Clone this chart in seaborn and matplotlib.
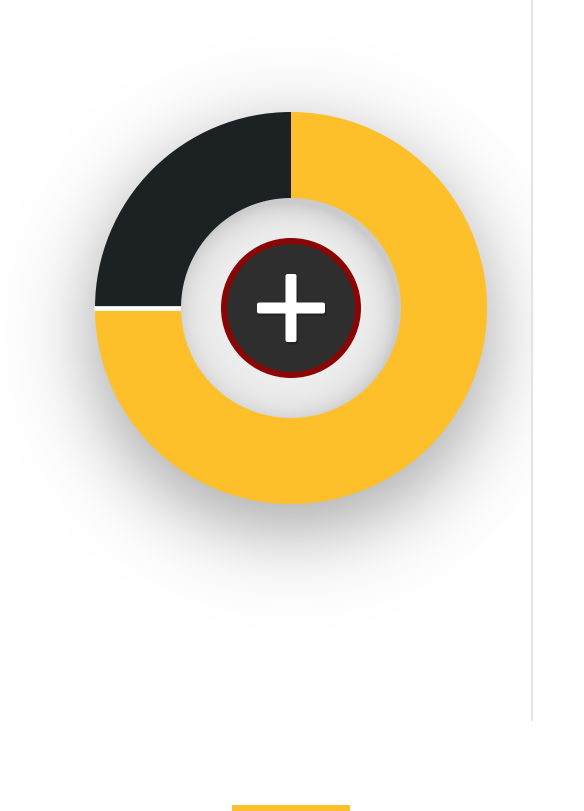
"""Donut widget: 25 / 75 split with a centre add button."""
import numpy as np
import matplotlib
matplotlib.use('Agg')
import matplotlib.pyplot as plt
from matplotlib.patches import Circle, Rectangle, FancyBboxPatch
import seaborn as sns

sns.set_theme(style='white')
plt.rcParams['font.family'] = ['DejaVu Sans']

# data
segment_names = ['Dark', 'Yellow']
segment_shares = [25, 75]
segment_colors = ['#1c2124', '#fec02a']

W, H = 584, 811
cx, cy = 291, 308
r_out, r_in = 196, 110

fig = plt.figure(figsize=(W / 100, H / 100), dpi=100)
ax = fig.add_axes([0, 0, 1, 1])

yy, xx = np.mgrid[0:H, 0:W] + 0.5

# soft drop shadow under the donut
rs = np.hypot(xx - cx, yy - (cy + 24))
shadow_a = 0.32 / (1 + np.exp((rs - 200) / 23))
shadow_a[xx > 533] *= 0.12
shadow = np.zeros((H, W, 4))
shadow[..., 3] = shadow_a
ax.imshow(shadow, extent=(0, W, H, 0), origin='upper', zorder=1, interpolation='bilinear')

# donut (y axis is inverted, so go clockwise in data terms)
wedges, _ = ax.pie(segment_shares, colors=segment_colors, startangle=-90, counterclock=False,
                   radius=r_out, center=(cx, cy),
                   wedgeprops=dict(width=r_out - r_in + 2, linewidth=0))
for w in wedges:
    w.set_zorder(2)

# white gap at 9 o'clock
ax.plot([cx - r_out - 1, cx - r_in + 2], [cy, cy], color='white', linewidth=3.4,
        solid_capstyle='butt', zorder=3)

# inner well with inset shading
r = np.hypot(xx - cx, yy - cy)
d_edge = r_in - np.hypot(xx - (cx - 4), yy - (cy + 5))
dark = np.exp(-np.clip(d_edge, 0, None) / 15)
val = np.clip(0.94 - 0.14 * dark, 0, 1)
well = np.zeros((H, W, 4))
well[..., 0] = val
well[..., 1] = val
well[..., 2] = val
well[..., 3] = np.clip(r_in + 0.5 - r, 0, 1)
ax.imshow(well, extent=(0, W, H, 0), origin='upper', zorder=4, interpolation='bilinear')

# button
ax.add_patch(Circle((cx, cy), 67, facecolor='#2e2e2e', edgecolor='#8b0505',
                    linewidth=4.3, zorder=5))

# plus sign with faint shadow
arms = [(257, 302.5, 68, 11), (285.5, 274, 11, 68)]
for x0, y0, w, h in arms:
    ax.add_patch(FancyBboxPatch((x0 + 1.5, y0 + 2.5), w, h,
                                boxstyle='round,pad=0,rounding_size=2',
                                facecolor='black', edgecolor='none', alpha=0.2, zorder=6))
for x0, y0, w, h in arms:
    ax.add_patch(FancyBboxPatch((x0, y0), w, h,
                                boxstyle='round,pad=0,rounding_size=2',
                                facecolor='white', edgecolor='none', zorder=7))

# side divider and bottom tab marker
ax.plot([532, 532], [0, 720], color='#e4e4e4', linewidth=1.5, zorder=8)
ax.add_patch(Rectangle((232, 805), 118, 6, facecolor='#fec02a', edgecolor='none', zorder=8))

ax.set_xlim(0, W)
ax.set_ylim(H, 0)
ax.set_aspect('equal')
ax.axis('off')

fig.savefig('out.png', dpi=100, facecolor='white')
